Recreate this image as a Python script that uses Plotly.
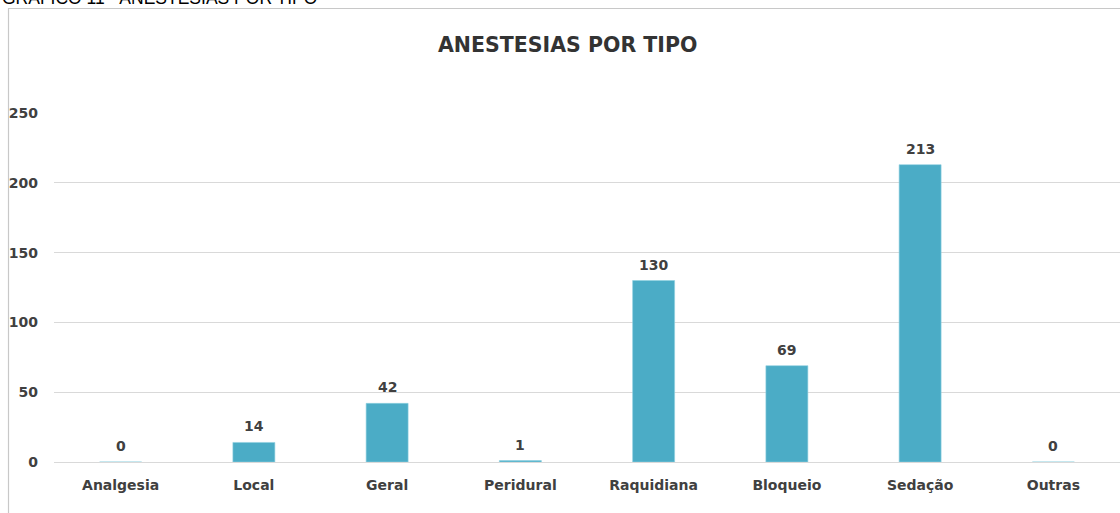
import plotly.graph_objects as go

categories = ["Analgesia", "Local", "Geral", "Peridural", "Raquidiana", "Bloqueio", "Sedação", "Outras"]
values = [0, 14, 42, 1, 130, 69, 213, 0]
y_ticks = [0, 50, 100, 150, 200, 250]

W, H = 1120, 513
L, R, T, B = 54, 0, 113, 51
pw, ph = W - L - R, H - T - B

def px(x):
    return (x - L) / pw

def py(y):
    return (H - B - y) / ph

bold_fam = "DejaVu Sans, Verdana, sans-serif"
font_fam = "Liberation Sans, Arial, sans-serif"
dark = "#404040"

fig = go.Figure()
fig.add_trace(go.Bar(
    x=categories, y=values,
    marker=dict(color="#4bacc6", line=dict(color="#8fd0e0", width=0.6)),
    hoverinfo="x+y",
))

fig.update_layout(
    width=W, height=H,
    margin=dict(l=L, r=R, t=T, b=B),
    paper_bgcolor="white", plot_bgcolor="white",
    bargap=0.685, showlegend=False,
    xaxis=dict(showgrid=False, showline=False, ticks="", zeroline=False,
               tickfont=dict(family=bold_fam, size=14, color=dark, weight="bold"),
               ticklabelstandoff=13, range=[-0.5, 7.5]),
    yaxis=dict(range=[0, 250], tickvals=y_ticks, showgrid=True, gridcolor="#d9d9d9",
               gridwidth=1, zeroline=True, zerolinecolor="#d9d9d9", zerolinewidth=1,
               ticks="", ticklabelstandoff=15,
               tickfont=dict(family=bold_fam, size=14, color=dark, weight="bold")),
    shapes=[dict(type="rect", xref="paper", yref="paper",
                 x0=px(8.5), x1=px(1130), y0=py(8.5), y1=py(530),
                 line=dict(color="#c8c8c8", width=1.2), fillcolor="rgba(0,0,0,0)", layer="below")],
)

fig.add_annotation(text="<b>ANESTESIAS POR TIPO</b>", xref="paper", yref="paper",
                   x=px(567), y=py(45), xanchor="center", yanchor="middle", showarrow=False,
                   font=dict(family=bold_fam, size=20.5, color="#333333"))
fig.add_annotation(text="GRÁFICO 11 - ANESTESIAS POR TIPO", xref="paper", yref="paper",
                   x=px(0), y=py(10), xanchor="left", yanchor="bottom", showarrow=False,
                   font=dict(family=font_fam, size=17.5, color="#000000"))

for c, v in zip(categories, values):
    fig.add_annotation(x=c, y=v, text=f"<b>{v}</b>", showarrow=False,
                       xanchor="center", yanchor="bottom", yshift=6,
                       font=dict(family=bold_fam, size=14, color=dark))

fig.write_html("out.html", config={"displayModeBar": False},
               post_script="document.body.style.margin='0';document.body.style.overflow='hidden';")
